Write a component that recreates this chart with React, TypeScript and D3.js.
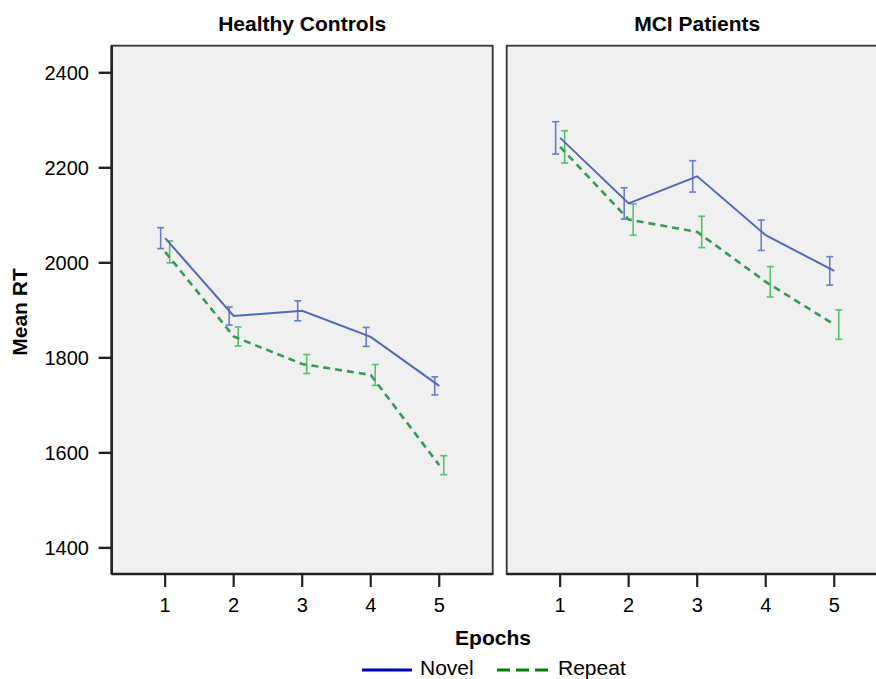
import React from "react";
import * as d3 from "d3";

const epochs = [1, 2, 3, 4, 5];
const panels = ["Healthy Controls", "MCI Patients"];
const yTicks = [1400, 1600, 1800, 2000, 2200, 2400];

const hcNovel = [2052, 1888, 1899, 1844, 1741];
const hcNovelErr = [22, 19, 21, 20, 19];
const hcRepeat = [2023, 1845, 1787, 1764, 1574];
const hcRepeatErr = [23, 20, 20, 22, 20];

const mciNovel = [2263, 2125, 2182, 2058, 1983];
const mciNovelErr = [34, 33, 33, 32, 30];
const mciRepeat = [2244, 2091, 2065, 1960, 1870];
const mciRepeatErr = [34, 33, 33, 32, 31];

const W = 876;
const H = 679;
const top = 45.7;
const bottom = 574;
const panelW = 381;
const panelX = [111.7, 506.7];
const font = "'Liberation Sans', Arial, Helvetica, sans-serif";

const novelLine = "#5567b9";
const novelBar = "#6a7cc8";
const repeatLine = "#389a58";
const repeatBar = "#55c26c";

const y = d3.scaleLinear().domain([1345, 2457]).range([bottom, top]);

type Series = { mean: number[]; err: number[] };

function Panel({ idx, novel, repeat }: { idx: number; novel: Series; repeat: Series }) {
  const x0 = panelX[idx];
  const x = d3.scaleLinear().domain([0.22, 5.78]).range([x0, x0 + panelW]);
  const line = d3
    .line<number>()
    .x((_, i) => x(epochs[i]))
    .y((d) => y(d));
  const bars = (s: Series, off: number, color: string) =>
    s.mean.map((m, i) => {
      const cx = x(epochs[i]) + off;
      const y1 = y(m + s.err[i]);
      const y2 = y(m - s.err[i]);
      return (
        <g key={i} stroke={color} strokeWidth={1.6}>
          <line x1={cx} x2={cx} y1={y1} y2={y2} />
          <line x1={cx - 3.5} x2={cx + 3.5} y1={y1} y2={y1} />
          <line x1={cx - 3.5} x2={cx + 3.5} y1={y2} y2={y2} />
        </g>
      );
    });
  return (
    <g>
      <rect x={x0} y={top} width={panelW} height={bottom - top} fill="#f0f0f0" stroke="#333" strokeWidth={1.8} />
      <text x={x0 + panelW / 2} y={31} textAnchor="middle" fontFamily={font} fontWeight="bold" fontSize={21}>
        {panels[idx]}
      </text>
      {idx === 0 && (
        <g>
          <line x1={x0} x2={x0} y1={top} y2={bottom} stroke="#222" strokeWidth={2.6} />
          {yTicks.map((t) => (
            <g key={t}>
              <line x1={x0 - 13} x2={x0} y1={y(t)} y2={y(t)} stroke="#222" strokeWidth={2.4} />
              <text x={89} y={y(t) + 7.5} textAnchor="end" fontFamily={font} fontSize={20}>
                {t}
              </text>
            </g>
          ))}
        </g>
      )}
      <line x1={x0} x2={x0 + panelW} y1={bottom} y2={bottom} stroke="#222" strokeWidth={2.6} />
      {epochs.map((e) => (
        <g key={e}>
          <line x1={x(e)} x2={x(e)} y1={bottom} y2={bottom + 13} stroke="#222" strokeWidth={2.2} />
          <text x={x(e)} y={612} textAnchor="middle" fontFamily={font} fontSize={20}>
            {e}
          </text>
        </g>
      ))}
      {bars(novel, -4.5, novelBar)}
      {bars(repeat, 4.5, repeatBar)}
      <path d={line(novel.mean) || ""} fill="none" stroke={novelLine} strokeWidth={2} />
      <path d={line(repeat.mean) || ""} fill="none" stroke={repeatLine} strokeWidth={2.6} strokeDasharray="7,5" />
    </g>
  );
}

export default function App() {
  return (
    <svg width={W} height={H} style={{ position: "absolute", left: 0, top: 0, background: "#fff" }}>
      <rect x={0} y={0} width={W} height={H} fill="#fff" />
      <Panel idx={0} novel={{ mean: hcNovel, err: hcNovelErr }} repeat={{ mean: hcRepeat, err: hcRepeatErr }} />
      <Panel idx={1} novel={{ mean: mciNovel, err: mciNovelErr }} repeat={{ mean: mciRepeat, err: mciRepeatErr }} />
      <text
        transform={`translate(27,312) rotate(-90)`}
        textAnchor="middle"
        fontFamily={font}
        fontWeight="bold"
        fontSize={21}
      >
        Mean RT
      </text>
      <text x={493} y={645} textAnchor="middle" fontFamily={font} fontWeight="bold" fontSize={21}>
        Epochs
      </text>
      <line x1={362} x2={412} y1={670} y2={670} stroke="#0000c8" strokeWidth={3} />
      <text x={420} y={675} fontFamily={font} fontSize={21}>
        Novel
      </text>
      <line x1={497} x2={549} y1={670} y2={670} stroke="#008000" strokeWidth={3} strokeDasharray="13,6" />
      <text x={558} y={675} fontFamily={font} fontSize={21}>
        Repeat
      </text>
    </svg>
  );
}
